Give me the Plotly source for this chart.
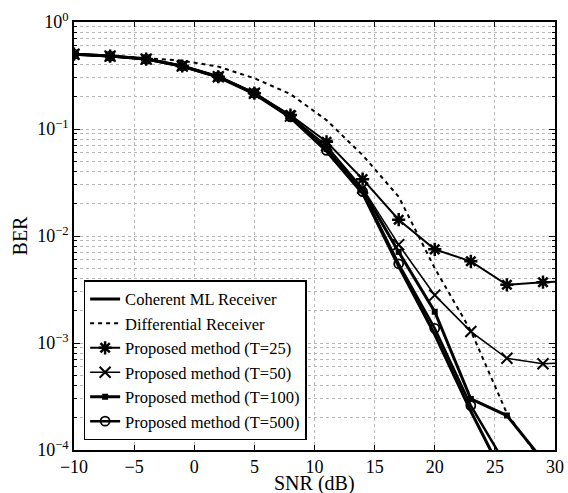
import plotly.graph_objects as go

snr = [-10, -7, -4, -1, 2, 5, 8, 11, 14, 17, 20, 23, 26, 29, 32]

coherent = [0.5, 0.48, 0.45, 0.385, 0.305, 0.213, 0.128, 0.062, 0.025, 0.0052, 0.0012, 0.00023, 0.00005]
differential = [0.5, 0.48, 0.46, 0.435, 0.383, 0.298, 0.212, 0.121, 0.057, 0.0233, 0.005, 0.0013, 0.00022, 0.000075]
t25 = [0.5, 0.48, 0.45, 0.388, 0.308, 0.216, 0.135, 0.076, 0.034, 0.0142, 0.0075, 0.0058, 0.0035, 0.0037, 0.0038]
t50 = [0.5, 0.48, 0.45, 0.388, 0.308, 0.216, 0.132, 0.07, 0.028, 0.0083, 0.0028, 0.00128, 0.00072, 0.00064, 0.00066]
t100 = [0.5, 0.48, 0.45, 0.388, 0.308, 0.216, 0.13, 0.065, 0.027, 0.0071, 0.00196, 0.0003, 0.00021, 0.00008]
t500 = [0.5, 0.48, 0.45, 0.388, 0.308, 0.216, 0.13, 0.063, 0.026, 0.0055, 0.00137, 0.00026, 0.00007]

x_ticks = [-10, -5, 0, 5, 10, 15, 20, 25, 30]
x_labels = ["\u221210", "\u22125", "0", "5", "10", "15", "20", "25", "30"]
y_ticks = [1e-4, 1e-3, 1e-2, 1e-1, 1]
y_labels = ["10<sup>\u22124</sup>", "10<sup>\u22123</sup>", "10<sup>\u22122</sup>", "10<sup>\u22121</sup>", "10<sup>0</sup>"]

FONT = "'Liberation Serif', 'DejaVu Serif', serif"
fig = go.Figure()

fig.add_trace(go.Scatter(x=snr[:len(coherent)], y=coherent, mode="lines",
                         name="Coherent ML Receiver",
                         line=dict(color="black", width=3)))
fig.add_trace(go.Scatter(x=snr[:len(differential)], y=differential, mode="lines",
                         name="Differential Receiver",
                         line=dict(color="black", width=2, dash="4px,4px")))
fig.add_trace(go.Scatter(x=snr[:len(t25)], y=t25, mode="lines+markers",
                         name="Proposed method (T=25)",
                         line=dict(color="black", width=2),
                         marker=dict(symbol="asterisk-open", size=11,
                                     line=dict(color="black", width=2.5))))
fig.add_trace(go.Scatter(x=snr[:len(t50)], y=t50, mode="lines+markers",
                         name="Proposed method (T=50)",
                         line=dict(color="black", width=1.6),
                         marker=dict(symbol="x-thin-open", size=11,
                                     line=dict(color="black", width=2))))
fig.add_trace(go.Scatter(x=snr[:len(t100)], y=t100, mode="lines+markers",
                         name="Proposed method (T=100)",
                         line=dict(color="black", width=3),
                         marker=dict(symbol="square", size=6, color="black")))
fig.add_trace(go.Scatter(x=snr[:len(t500)], y=t500, mode="lines+markers",
                         name="Proposed method (T=500)",
                         line=dict(color="black", width=2.5),
                         marker=dict(symbol="circle-open", size=9,
                                     line=dict(color="black", width=1.8))))

minor_vals = [m * 10 ** e for e in range(-4, 0) for m in range(2, 10)]

fig.update_layout(
    width=568, height=493,
    margin=dict(l=74, r=13, t=22, b=43),
    paper_bgcolor="white", plot_bgcolor="white",
    font=dict(family=FONT, size=18, color="black"),
    showlegend=True,
    legend=dict(x=0.02, y=0.023, xanchor="left", yanchor="bottom",
                bgcolor="white", bordercolor="black", borderwidth=1.5,
                font=dict(family=FONT, size=16.5, color="black"),
                itemwidth=30, tracegroupgap=0),
    xaxis=dict(range=[-10, 30], tickmode="array", tickvals=x_ticks, ticktext=x_labels,
               showline=True, linecolor="black", linewidth=1.5, mirror="ticks",
               ticks="inside", ticklen=5, tickcolor="black",
               showgrid=True, gridcolor="#b8b8b8", griddash="dot", gridwidth=1,
               zeroline=False, automargin=False,
               tickfont=dict(family=FONT, size=18)),
    yaxis=dict(type="log", range=[-4, 0], tickmode="array", tickvals=y_ticks, ticktext=y_labels,
               showline=True, linecolor="black", linewidth=1.5, mirror="ticks",
               ticks="inside", ticklen=6, tickcolor="black",
               showgrid=True, gridcolor="#b8b8b8", griddash="dot", gridwidth=1,
               zeroline=False, automargin=False,
               minor=dict(tickmode="array", tickvals=minor_vals, ticks="inside", ticklen=3,
                          tickcolor="black", showgrid=True, gridcolor="#b8b8b8", griddash="dot"),
               title=dict(text="BER", font=dict(family=FONT, size=20), standoff=4),
               tickfont=dict(family=FONT, size=18)),
    annotations=[dict(text="SNR (dB)", xref="paper", yref="paper", x=0.5, y=-0.079,
                      xanchor="center", yanchor="middle", showarrow=False,
                      font=dict(family=FONT, size=20, color="black"))],
)

fig.write_html("out.html", config={"displayModeBar": False},
               post_script="document.body.style.margin='0';")
